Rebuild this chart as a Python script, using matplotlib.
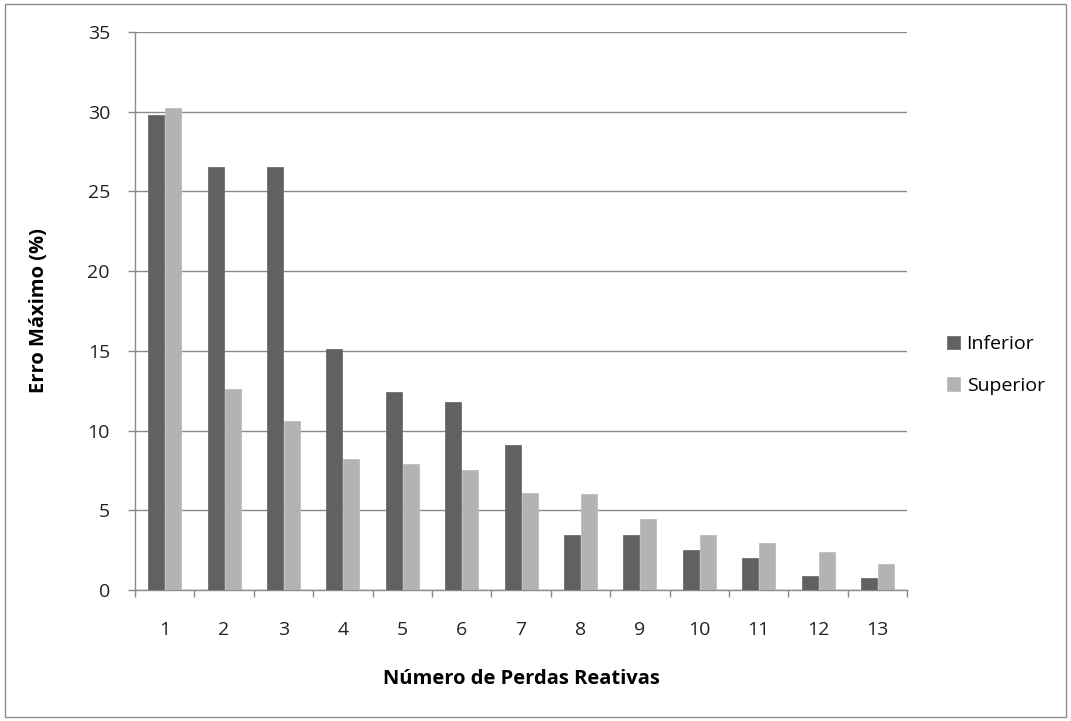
import matplotlib.pyplot as plt
import numpy as np
from matplotlib.patches import Rectangle

plt.rcParams['font.family'] = ['Open Sans', 'DejaVu Sans']

categorias = [str(i) for i in range(1, 14)]
inferior = [29.8, 26.5, 26.5, 15.1, 12.4, 11.8, 9.1, 3.45, 3.45, 2.5, 2.0, 0.9, 0.75]
superior = [30.2, 12.6, 10.6, 8.2, 7.9, 7.5, 6.1, 6.05, 4.45, 3.45, 2.95, 2.4, 1.65]

cor_inf = '#616161'
cor_sup = '#b3b3b3'
cinza = '#8a8a8a'

fig = plt.figure(figsize=(10.71, 7.21), dpi=100)
ax = fig.add_axes([0.126, 0.1817, 0.721, 0.774])

x = np.arange(len(categorias))
w = 0.27
ax.bar(x - w / 2 - 0.008, inferior, w, color=cor_inf, edgecolor='#6e6e6e', linewidth=0.6,
       label='Inferior', zorder=3)
ax.bar(x + w / 2 + 0.008, superior, w, color=cor_sup, edgecolor='#bdbdbd', linewidth=0.6,
       label='Superior', zorder=3)

ax.set_xlim(-0.5, len(categorias) - 0.5)
ax.set_ylim(0, 35)
ax.set_yticks(np.arange(0, 36, 5))
ax.yaxis.grid(True, color=cinza, linewidth=1.0, zorder=0)

# ticks on category boundaries, labels centred under each group
ax.set_xticks(np.arange(-0.5, len(categorias)), labels=[''] * (len(categorias) + 1))
ax.set_xticks(x, labels=categorias, minor=True)
ax.tick_params(axis='x', which='major', length=5, color=cinza, width=1)
ax.tick_params(axis='x', which='minor', length=0, pad=22, labelsize=14, labelcolor='#222222')
ax.tick_params(axis='y', length=5, color=cinza, width=1, pad=13, labelsize=14,
               labelcolor='#222222')

for s in ['top', 'right']:
    ax.spines[s].set_visible(False)
for s in ['left', 'bottom']:
    ax.spines[s].set_color(cinza)
    ax.spines[s].set_linewidth(1)

ax.set_xlabel('Número de Perdas Reativas', fontsize=14.5, fontweight='bold', labelpad=22)
ax.set_ylabel('Erro Máximo (%)', fontsize=14.5, fontweight='bold', labelpad=28)

ax.legend(loc='center left', bbox_to_anchor=(1.041, 0.403), frameon=False, fontsize=14,
          borderaxespad=0, handlelength=0.67, handleheight=0.67, handletextpad=0.36,
          labelspacing=1.2)

fig.patches.append(Rectangle((0.005, 0.006), 0.99, 0.988, transform=fig.transFigure,
                             fill=False, edgecolor='#8c8c8c', linewidth=1))

fig.savefig('out.png', dpi=100)
